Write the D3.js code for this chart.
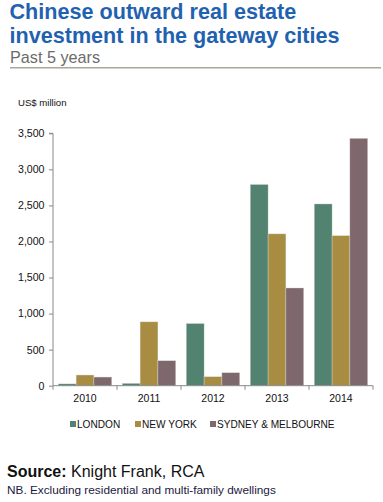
<!DOCTYPE html>
<html><head><meta charset="utf-8">
<script src="https://cdn.jsdelivr.net/npm/d3@7"></script>
<style>body{margin:0;background:#fff;} svg{display:block;font-family:"Liberation Sans",Arial,sans-serif;}</style>
</head><body>
<script>
const years = ["2010","2011","2012","2013","2014"];
const seriesNames = ["LONDON","NEW YORK","SYDNEY & MELBOURNE"];
const london = [25, 32, 862, 2790, 2520];
const newYork = [148, 885, 124, 2105, 2080];
const sydney = [120, 346, 180, 1355, 3430];
const yTicks = [0,500,1000,1500,2000,2500,3000,3500];
const colors = ["#528270","#a88c42","#7f686d"];
const series = [london, newYork, sydney];

const W=383,H=502;
const svg=d3.select("body").append("svg").attr("width",W).attr("height",H);

svg.append("text").attr("x",9.5).attr("y",19).attr("fill","#1f62b0").attr("font-size","21.6px").attr("font-weight","bold").text("Chinese outward real estate");
svg.append("text").attr("x",9.5).attr("y",42.5).attr("fill","#1f62b0").attr("font-size","21.6px").attr("font-weight","bold").text("investment in the gateway cities");
svg.append("text").attr("x",10).attr("y",62.5).attr("fill","#6b6b6b").attr("font-size","16.2px").text("Past 5 years");
svg.append("line").attr("x1",10).attr("x2",381).attr("y1",67.8).attr("y2",67.8).attr("stroke","#aaa69c").attr("stroke-width",1.5);

const m={l:53,r:373,t:133.3,b:385.7};
const x=d3.scaleBand().domain(years).range([m.l,m.r]).paddingInner(0.165).paddingOuter(0.083);
const xs=d3.scaleBand().domain(d3.range(3)).range([0,x.bandwidth()]);
const y=d3.scaleLinear().domain([0,3500]).range([m.b,m.t]);

svg.append("text").attr("x",18).attr("y",106).attr("font-size","9.6px").attr("fill","#111").text("US$ million");

const g=svg.append("g");
series.forEach((s,i)=>{
  g.selectAll(null).data(years).enter().append("rect")
   .attr("x",d=>x(d)+xs(i)).attr("width",xs.bandwidth())
   .attr("y",(d,j)=>y(s[j])).attr("height",(d,j)=>y(0)-y(s[j]))
   .attr("fill",colors[i]).attr("stroke","#d8d8d0").attr("stroke-width",0.4);
});

const ya=svg.append("g").attr("transform",`translate(${m.l},0)`)
  .call(d3.axisLeft(y).tickValues(yTicks).tickFormat(d3.format(",")).tickSize(4).tickPadding(4.5));
ya.select(".domain").attr("stroke","#888").attr("d",`M-4,${y(3500)}H0V${y(0)}`);
ya.selectAll(".tick line").attr("stroke","#888");
ya.selectAll("text").attr("font-size","10.6px").attr("fill","#111").attr("font-family","Liberation Sans, Arial, sans-serif");

const xa=svg.append("g").attr("transform",`translate(0,${m.b})`);
xa.append("line").attr("x1",m.l).attr("x2",m.r).attr("stroke","#888");
const edges=[m.l].concat(years.map((d,i)=>i<4?(x(d)+x.bandwidth()+x(years[i+1]))/2:m.r));
xa.selectAll(null).data(edges).enter().append("line").attr("x1",d=>d).attr("x2",d=>d).attr("y1",0).attr("y2",4).attr("stroke","#888");
xa.selectAll(null).data(years).enter().append("text").attr("x",d=>x(d)+x.bandwidth()/2).attr("y",16.5).attr("text-anchor","middle").attr("font-size","10.5px").attr("fill","#111").text(d=>d);

const legX=[70,135,210];
const leg=svg.append("g").attr("transform","translate(0,428)");
seriesNames.forEach((n,i)=>{
  leg.append("rect").attr("x",legX[i]).attr("y",-7).attr("width",6).attr("height",6).attr("fill",colors[i]);
  leg.append("text").attr("x",legX[i]+7).attr("y",0).attr("font-size","10.1px").attr("fill","#111").text(n);
});

const src=svg.append("text").attr("x",7).attr("y",477).attr("font-size","16px").attr("fill","#111");
src.append("tspan").attr("font-weight","bold").text("Source:");
src.append("tspan").text(" Knight Frank, RCA");
svg.append("text").attr("x",7).attr("y",494).attr("font-size","11.8px").attr("fill","#1a1a40").text("NB. Excluding residential and multi-family dwellings");
</script>
</body></html>
